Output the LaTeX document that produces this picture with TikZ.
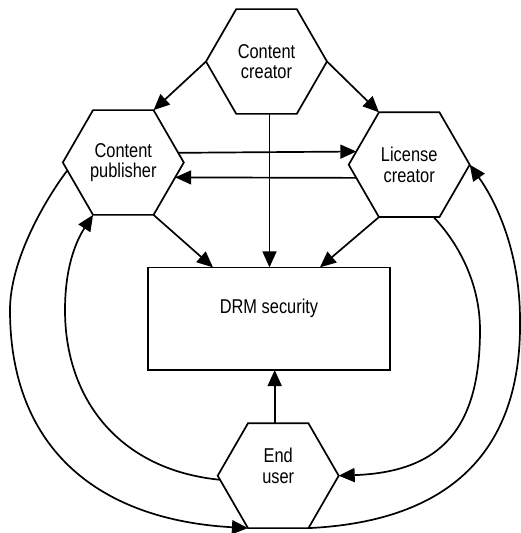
\documentclass[tikz,border=0pt]{standalone}
\usepackage{fontspec}
\setmainfont{Liberation Sans}[FakeStretch=0.82]
\usetikzlibrary{shapes.geometric,arrows.meta}
\begin{document}
\begin{tikzpicture}[x=1pt,y=-1pt,
  hex/.style={draw, line width=1.7pt, regular polygon, regular polygon sides=6,
    minimum size=121pt, inner sep=0pt, outer sep=0pt, align=center,
    font=\fontsize{20}{20.5}\selectfont},
  txt/.style={align=center, inner sep=0pt, font=\fontsize{20}{20.5}\selectfont},
  boxnode/.style={draw, line width=1.7pt, rectangle, minimum width=242.3pt,
    minimum height=102.7pt, inner sep=0pt, outer sep=0pt},
  arr/.style={line width=1.7pt, -{Triangle[length=16pt,width=14pt]}}]
\useasboundingbox (0,0) rectangle (521,533);

\node[hex] (cc) at (266.5,61.5) {Content\\creator};
\node[hex] (cp) at (123.3,162.5) {Content\\publisher};
\node[hex] (lc) at (409.2,164.7) {License\\creator};
\node[hex] (eu) at (278.2,475.7) {};
\node[txt] (eut) at (278.2,466) {End\\user};
\node[boxnode] (drm) at (268.8,318.7) {};
\node[txt] (drmt) at (269,308) {DRM security};

% straight connectors
\draw[arr] (cc.180) -- (cp.60);
\draw[arr] (cc.0) -- (lc.120);
\draw[arr] ([xshift=3pt]cc.south) -- ([xshift=3pt]cc.south |- drm.north);
\draw[arr] (cp.10.9) -- (lc.166.6);
\draw[arr] (lc.194.1) -- (cp.-16.7);
\draw[arr] (cp.-60) -- ([xshift=65.3pt]drm.north west);
\draw[arr] (lc.240) -- ([xshift=-70pt]drm.north east);
\draw[arr] ([xshift=-3.5pt]eu.north) -- ([xshift=-3.5pt]eu.north |- drm.south);

% curved connectors
\draw[arr] (cp.188) .. controls (45,200) and (10,260) .. (10,310)
  .. controls (10,450) and (100,520) .. (eu.240);
\draw[arr] (eu.184) .. controls (120,470) and (65,400) .. (65,310)
  .. controls (65,260) and (80,235) .. (cp.240);
\draw[arr] (lc.-65.6) .. controls (460,245) and (480,285) .. (480,330)
  .. controls (480,430) and (440,472) .. (eu.0);
\draw[arr] (eu.-60) .. controls (440,522) and (522,460) .. (520,320)
  .. controls (520,250) and (495,200) .. (lc.0);
\end{tikzpicture}
\end{document}
